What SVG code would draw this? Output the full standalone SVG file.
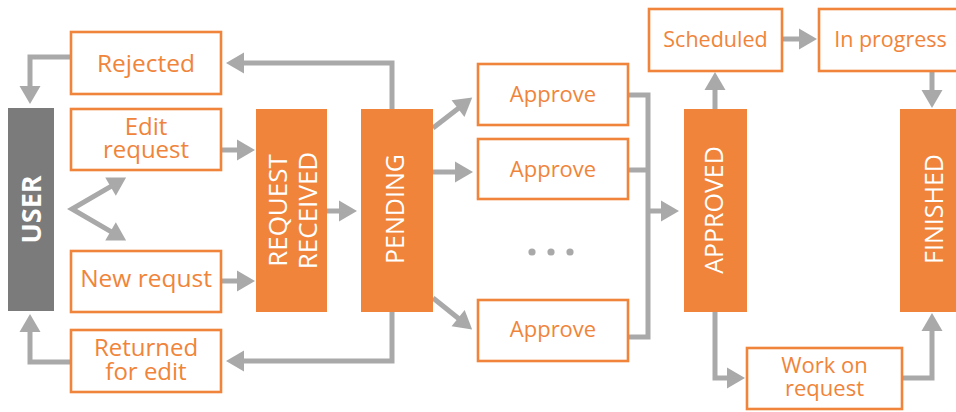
<svg xmlns="http://www.w3.org/2000/svg" width="956" height="412" viewBox="0 0 956 412">
<style>
.box{fill:#fff;stroke:#f0843a;stroke-width:2.6}
.state{fill:#f0843a}
.lbl{font-family:"Open Sans","Noto Sans",sans-serif;fill:#f0843a;text-anchor:middle;font-weight:500}
.vlbl{font-family:"Open Sans","Noto Sans",sans-serif;fill:#fff;text-anchor:middle;font-size:25px;font-weight:500}
.c{fill:none;stroke:#a9a9a9;stroke-width:5;marker-end:url(#ah)}
.cn{fill:none;stroke:#a9a9a9;stroke-width:5}
</style>
<defs>
<marker id="ah" markerUnits="userSpaceOnUse" markerWidth="20" markerHeight="22" refX="1" refY="10.5" orient="auto-start-reverse" viewBox="0 0 20 22" overflow="visible">
<path d="M0,0 L18,10.5 L0,21 z" fill="#a9a9a9"/>
</marker>
</defs>
<g id="connectors">
<path class="c" d="M392,109 V63 H243"/>
<path class="c" d="M71,57 H30 V87"/>
<path class="c" d="M392,312 V361 H243"/>
<path class="c" d="M71,362 H30 V331"/>
<path class="c" d="M221,150 H238"/>
<path class="c" d="M221,281 H238"/>
<path class="c" style="marker-start:url(#ah)" d="M111.4,186.1 L72,209 L111.4,231.9"/>
<path class="c" d="M327,211 H340"/>
<path class="c" d="M433,128 L458.8,108"/>
<path class="c" d="M433,172 H456"/>
<path class="c" d="M433,298 L458.9,318.75"/>
<path class="cn" d="M628,95 H648 V337 H628"/>
<path class="cn" d="M628,170 H648"/>
<path class="c" d="M648,211 H662"/>
<path class="c" d="M715,109 V89"/>
<path class="c" d="M782,39 H800"/>
<path class="c" d="M932,71 V91"/>
<path class="c" d="M715,312 V378 H728"/>
<path class="c" d="M902,378 H932 V330"/>
<circle cx="532" cy="252" r="3.6" fill="#a9a9a9"/>
<circle cx="551" cy="252" r="3.6" fill="#a9a9a9"/>
<circle cx="570" cy="252" r="3.6" fill="#a9a9a9"/>
</g>
<g id="user"><rect x="8" y="108" width="46" height="203" fill="#7b7b7b"/><text class="vlbl" style="font-weight:700;font-size:27px" transform="translate(40.6,209.5) rotate(-90)">USER</text></g>
<g id="rejected"><rect class="box" x="71" y="32" width="150" height="62"/><text class="lbl" x="146" y="71.5" font-size="24.5">Rejected</text></g>
<g id="edit"><rect class="box" x="71" y="109" width="150" height="61"/><text class="lbl" x="146" y="135" font-size="24">Edit</text><text class="lbl" x="146" y="158" font-size="24">request</text></g>
<g id="new"><rect class="box" x="71" y="251" width="150" height="61"/><text class="lbl" x="146" y="287" font-size="24.5">New requst</text></g>
<g id="returned"><rect class="box" x="71" y="330" width="150" height="62"/><text class="lbl" x="146" y="356" font-size="24">Returned</text><text class="lbl" x="146" y="380" font-size="24">for edit</text></g>
<g id="received"><rect class="state" x="256" y="109" width="71" height="203"/><text class="vlbl" style="font-size:26px" transform="translate(286.5,210.5) rotate(-90)">REQUEST</text><text class="vlbl" style="font-size:26px" transform="translate(317,210.5) rotate(-90)">RECEIVED</text></g>
<g id="pending"><rect class="state" x="361" y="109" width="72" height="203"/><text class="vlbl" transform="translate(404,209) rotate(-90)">PENDING</text></g>
<g id="approve1"><rect class="box" x="478" y="64" width="150" height="61"/><text class="lbl" x="553" y="102" font-size="22">Approve</text></g>
<g id="approve2"><rect class="box" x="478" y="139" width="150" height="60"/><text class="lbl" x="553" y="177" font-size="22">Approve</text></g>
<g id="approve3"><rect class="box" x="478" y="300" width="150" height="61"/><text class="lbl" x="553" y="337" font-size="22">Approve</text></g>
<g id="approved"><rect class="state" x="684" y="109" width="63" height="203"/><text class="vlbl" transform="translate(723,210) rotate(-90)">APPROVED</text></g>
<g id="scheduled"><rect class="box" x="649" y="9" width="133" height="62"/><text class="lbl" x="715.5" y="47" font-size="21.5">Scheduled</text></g>
<g id="inprogress"><rect class="box" x="819" y="9" width="150" height="62"/><text class="lbl" x="890.5" y="47" font-size="21.5">In progress</text></g>
<g id="work"><rect class="box" x="747" y="348" width="155" height="61"/><text class="lbl" x="824.5" y="373" font-size="22">Work on</text><text class="lbl" x="824.5" y="396" font-size="22">request</text></g>
<g id="finished"><rect class="state" x="900" y="109" width="70" height="203"/><text class="vlbl" transform="translate(943,209) rotate(-90)">FINISHED</text></g>
</svg>
